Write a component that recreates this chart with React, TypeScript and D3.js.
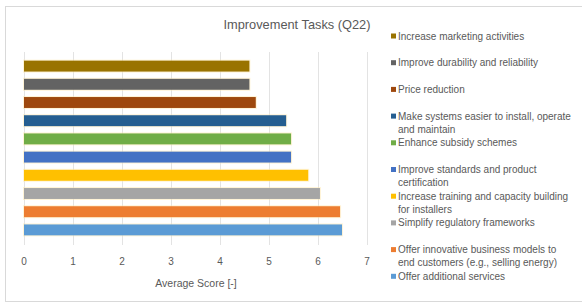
import React, { useEffect, useRef } from 'react';
import * as d3 from 'd3';

// series in Excel order (first one is drawn at the bottom)
const categories = [
  'Offer additional services',
  'Offer innovative business models to end customers (e.g., selling energy)',
  'Simplify regulatory frameworks',
  'Increase training and capacity building for installers',
  'Improve standards and product certification',
  'Enhance subsidy schemes',
  'Make systems easier to install, operate and maintain',
  'Price reduction',
  'Improve durability and reliability',
  'Increase marketing activities',
];
const scores = [6.49, 6.45, 6.04, 5.8, 5.45, 5.45, 5.35, 4.73, 4.6, 4.6];
const colors = ['#5B9BD5', '#ED7D31', '#A5A5A5', '#FFC000', '#4472C4', '#70AD47', '#255E91', '#9E480E', '#636363', '#997300'];
const xTicks = [0, 1, 2, 3, 4, 5, 6, 7];

// legend text as wrapped in the original, top to bottom
const legendLines = [
  ['Increase marketing activities'],
  ['Improve durability and reliability'],
  ['Price reduction'],
  ['Make systems easier to install, operate', 'and maintain'],
  ['Enhance subsidy schemes'],
  ['Improve standards and product', 'certification'],
  ['Increase training and capacity building', 'for installers'],
  ['Simplify regulatory frameworks'],
  ['Offer innovative business models to', 'end customers (e.g., selling energy)'],
  ['Offer additional services'],
];

const W = 582, H = 304;

const Chart: React.FC = () => {
  const ref = useRef<SVGSVGElement>(null);

  useEffect(() => {
    if (!ref.current) return;
    const root = d3.select(ref.current);
    root.selectAll('*').remove();

    const font = '"Liberation Sans", Arial, sans-serif';
    const grey = '#595959';

    root.append('rect')
      .attr('width', W).attr('height', H).attr('fill', '#fff');
    root.append('rect')
      .attr('x', 5.5).attr('y', 6.5)
      .attr('width', W).attr('height', 295)
      .attr('fill', 'none').attr('stroke', '#d9d9d9');

    const plot = { left: 24, right: 367, top: 57, bottom: 239 };

    const x = d3.scaleLinear().domain([0, 7]).range([plot.left, plot.right]);
    // top of chart shows the last series
    const order = d3.range(categories.length).reverse();
    const y = d3.scaleBand<number>()
      .domain(order)
      .range([plot.top, plot.bottom])
      .paddingInner(0.4)
      .paddingOuter(0.2);

    // gridlines
    root.append('g')
      .selectAll('line')
      .data(xTicks)
      .enter()
      .append('line')
      .attr('x1', d => x(d) + 0.5).attr('x2', d => x(d) + 0.5)
      .attr('y1', 52).attr('y2', 245)
      .attr('stroke', '#e3e3e3');

    // tick labels
    root.append('g')
      .selectAll('text')
      .data(xTicks)
      .enter()
      .append('text')
      .attr('x', d => x(d))
      .attr('y', 265)
      .attr('text-anchor', 'middle')
      .attr('font-family', font)
      .attr('font-size', 10)
      .attr('fill', grey)
      .text(d => String(d));

    // bars with a soft halo
    const bars = root.append('g');
    bars.selectAll('rect.halo')
      .data(order)
      .enter()
      .append('rect')
      .attr('class', 'halo')
      .attr('x', x(0) - 1)
      .attr('y', d => (y(d) ?? 0) - 1)
      .attr('width', d => x(scores[d]) - x(0) + 2)
      .attr('height', y.bandwidth() + 2)
      .attr('fill', '#ffe9b0')
      .attr('opacity', 0.5);
    bars.selectAll('rect.bar')
      .data(order)
      .enter()
      .append('rect')
      .attr('class', 'bar')
      .attr('x', x(0))
      .attr('y', d => y(d) ?? 0)
      .attr('width', d => x(scores[d]) - x(0))
      .attr('height', y.bandwidth())
      .attr('fill', d => colors[d]);

    root.append('text')
      .attr('x', 297).attr('y', 29)
      .attr('text-anchor', 'middle')
      .attr('font-family', font)
      .attr('font-size', 12.8)
      .attr('fill', grey)
      .text('Improvement Tasks (Q22)');

    root.append('text')
      .attr('x', 196).attr('y', 287)
      .attr('text-anchor', 'middle')
      .attr('font-family', font)
      .attr('font-size', 10.5)
      .attr('fill', grey)
      .text('Average Score [-]');

    // legend
    const legend = root.append('g');
    const item = legend.selectAll('g')
      .data(order)
      .enter()
      .append('g')
      .attr('transform', (d, i) => `translate(391,${36 + i * 26.7})`);
    item.append('rect')
      .attr('x', 0).attr('y', -2.5)
      .attr('width', 5).attr('height', 5)
      .attr('fill', d => colors[d]);
    item.append('text')
      .attr('font-family', font)
      .attr('font-size', 10)
      .attr('fill', grey)
      .selectAll('tspan')
      .data((d, i) => legendLines[i])
      .enter()
      .append('tspan')
      .attr('x', 7)
      .attr('y', (l, j) => 3.5 + j * 13)
      .text(l => l);
  }, []);

  return <svg ref={ref} width={W} height={H} style={{ display: 'block' }} />;
};

export default function App() {
  return (
    <div style={{ position: 'fixed', left: 0, top: 0 }}>
      <Chart />
    </div>
  );
}
